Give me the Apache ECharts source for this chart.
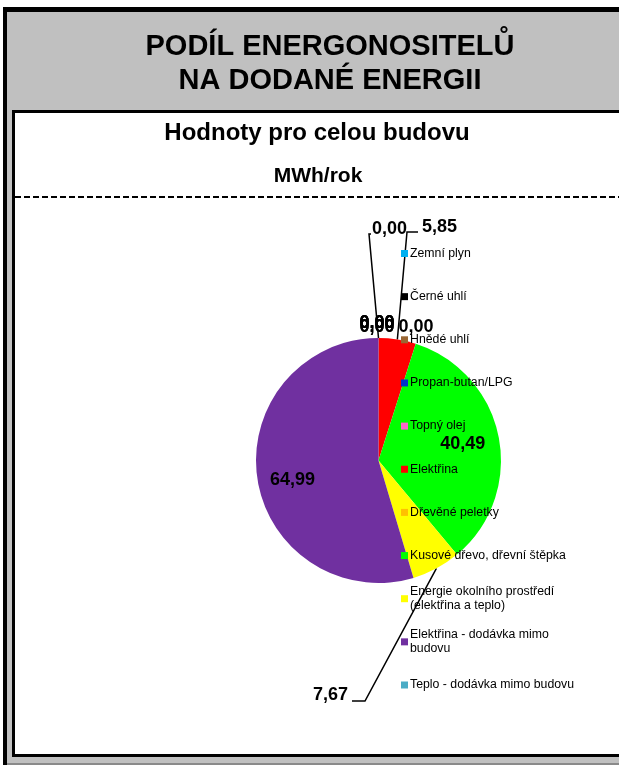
<!DOCTYPE html>
<html>
<head>
<meta charset="utf-8">
<script src="https://cdn.jsdelivr.net/npm/echarts@6/dist/echarts.min.js"></script>
<style>
    html, body { margin: 0; padding: 0; background: #fff; }
    #pieChart { width: 619px; height: 765px; }
</style>
</head>
<body>
<div id="pieChart"></div>
<script>
// ------------------------------------ data ------------------------------------
var categories = ['Zemní plyn', 'Černé uhlí', 'Hnědé uhlí', 'Propan-butan/LPG', 'Topný olej', 'Elektřina',
    'Dřevěné peletky', 'Kusové dřevo, dřevní štěpka', 'Energie okolního prostředí (elektřina a teplo)',
    'Elektřina - dodávka mimo budovu', 'Teplo - dodávka mimo budovu'];
var values = [0, 0, 0, 0, 0, 5.85, 0, 40.49, 7.67, 64.99, 0];
var legendLabels = ['Zemní plyn', 'Černé uhlí', 'Hnědé uhlí', 'Propan-butan/LPG', 'Topný olej', 'Elektřina',
    'Dřevěné peletky', 'Kusové dřevo, dřevní štěpka', 'Energie okolního prostředí\n(elektřina a teplo)',
    'Elektřina - dodávka mimo\nbudovu', 'Teplo - dodávka mimo budovu'];

var palette = ['#00b0f0', '#000000', '#996633', '#0033cc', '#ff66cc', '#ff0000',
    '#ffc000', '#00ff00', '#ffff00', '#7030a0', '#4bacc6'];

// ------------------------------------ layout ------------------------------------
var pieCenter = [378.5, 460.5];
var pieRadius = 122.5;
var font = 'Liberation Sans';

// where excel put the value labels (offsets from pie centre)
var labelSpots = {
    0: { dx: -1.5, dy: -137, align: 'center' },
    1: { dx: -1.5, dy: -137, align: 'center' },
    2: { dx: 37.5, dy: -133, align: 'center' },
    3: { dx: -6.5, dy: -231, align: 'left', bend: [[-9.5, -226.5], [-7.5, -226.5]] },
    4: { dx: -1.5, dy: -133.5, align: 'center' },
    5: { dx: 43.5, dy: -233, align: 'left', bend: [[28.5, -228.5], [39.5, -228.5]] },
    6: { dx: -1.5, dy: -133.5, align: 'center' },
    7: { inside: 0.7, nudge: 0 },
    8: { dx: -30.5, dy: 235, align: 'right', bend: [[-13.5, 240.5], [-26.5, 240.5]] },
    9: { inside: 0.71, nudge: 7 },
    10: { dx: -1.5, dy: -137, align: 'center' }
};

var total = values.reduce(function (a, b) { return a + b; }, 0);
function midAngle(i) {
    var s = 0;
    for (var k = 0; k < i; k++) s += values[k];
    return (s + values[i] / 2) / total * Math.PI * 2;
}

var chart = echarts.init(document.getElementById('pieChart'));

var option = {
    animation: false,
    backgroundColor: '#fff',
    textStyle: { fontFamily: font },
    graphic: [
        // grey frame
        { type: 'rect', shape: { x: 3, y: 7, width: 616, height: 758 }, style: { fill: '#c0c0c0' }, z: -10 },
        { type: 'rect', shape: { x: 3, y: 7, width: 4, height: 758 }, style: { fill: '#000' }, z: -9 },
        { type: 'rect', shape: { x: 3, y: 7, width: 616, height: 5 }, style: { fill: '#000' }, z: -9 },
        { type: 'rect', shape: { x: 7, y: 763, width: 612, height: 2 }, style: { fill: '#8a8a8a' }, z: -9 },
        // white panel
        { type: 'rect', shape: { x: 12, y: 110, width: 620, height: 647 }, style: { fill: '#000' }, z: -8 },
        { type: 'rect', shape: { x: 15, y: 113, width: 620, height: 641 }, style: { fill: '#fff' }, z: -7 },
        { type: 'line', shape: { x1: 15, y1: 197, x2: 619, y2: 197 }, style: { stroke: '#000', lineWidth: 2, lineDash: [6, 3] }, z: -6 },
        // headings
        { type: 'text', x: 330, y: 47, style: { text: 'PODÍL ENERGONOSITELŮ', font: 'bold 29px "Liberation Sans"', fill: '#000', align: 'center', verticalAlign: 'middle' } },
        { type: 'text', x: 330, y: 81, style: { text: 'NA DODANÉ ENERGII', font: 'bold 29px "Liberation Sans"', fill: '#000', align: 'center', verticalAlign: 'middle' } },
        { type: 'text', x: 317, y: 133, style: { text: 'Hodnoty pro celou budovu', font: 'bold 24px "Liberation Sans"', fill: '#000', align: 'center', verticalAlign: 'middle' } },
        { type: 'text', x: 318, y: 176, style: { text: 'MWh/rok', font: 'bold 21px "Liberation Sans"', fill: '#000', align: 'center', verticalAlign: 'middle' } }
    ],
    legend: {
        orient: 'vertical',
        left: 401,
        top: 232.5,
        padding: 0,
        itemWidth: 7,
        itemHeight: 7,
        itemGap: 1.15,
        icon: 'rect',
        selectedMode: false,
        textStyle: { fontFamily: font, fontSize: 12.3, color: '#000', lineHeight: 14 },
        formatter: function (name) {
            return legendLabels[categories.indexOf(name)];
        },
        data: categories.map(function (name, i) {
            var twoLines = legendLabels[i].indexOf('\n') >= 0;
            return { name: name, textStyle: { padding: twoLines ? [14, 0, 0, -3] : [14, 0, 14, -3] } };
        })
    },
    series: [{
        name: 'MWh/rok',
        type: 'pie',
        center: pieCenter,
        radius: pieRadius,
        startAngle: 90,
        clockwise: true,
        avoidLabelOverlap: false,
        label: {
            show: true,
            position: 'outside',
            fontFamily: font,
            fontSize: 18,
            fontWeight: 'bold',
            color: '#000',
            formatter: function (p) {
                return p.value.toFixed(2).replace('.', ',');
            }
        },
        labelLine: {
            show: true,
            lineStyle: { color: '#000', width: 1.5 }
        },
        labelLayout: function (p) {
            var i = p.dataIndex;
            var spot = labelSpots[i];
            var a = midAngle(i);
            if (spot.inside) {
                return {
                    x: pieCenter[0] + spot.inside * pieRadius * Math.sin(a),
                    y: pieCenter[1] - spot.inside * pieRadius * Math.cos(a) + spot.nudge,
                    align: 'center',
                    verticalAlign: 'middle'
                };
            }
            var res = {
                x: pieCenter[0] + spot.dx,
                y: pieCenter[1] + spot.dy,
                align: spot.align,
                verticalAlign: 'middle'
            };
            if (spot.bend) {
                res.labelLinePoints = [
                    [pieCenter[0] + pieRadius * Math.sin(a), pieCenter[1] - pieRadius * Math.cos(a)],
                    [pieCenter[0] + spot.bend[0][0], pieCenter[1] + spot.bend[0][1]],
                    [pieCenter[0] + spot.bend[1][0], pieCenter[1] + spot.bend[1][1]]
                ];
            }
            return res;
        },
        data: categories.map(function (name, i) {
            return {
                name: name,
                value: values[i],
                itemStyle: { color: palette[i] },
                labelLine: { show: !!labelSpots[i].bend }
            };
        })
    }]
};

if (option && typeof option === "object") {
    chart.setOption(option, true);
}
</script>
</body>
</html>
